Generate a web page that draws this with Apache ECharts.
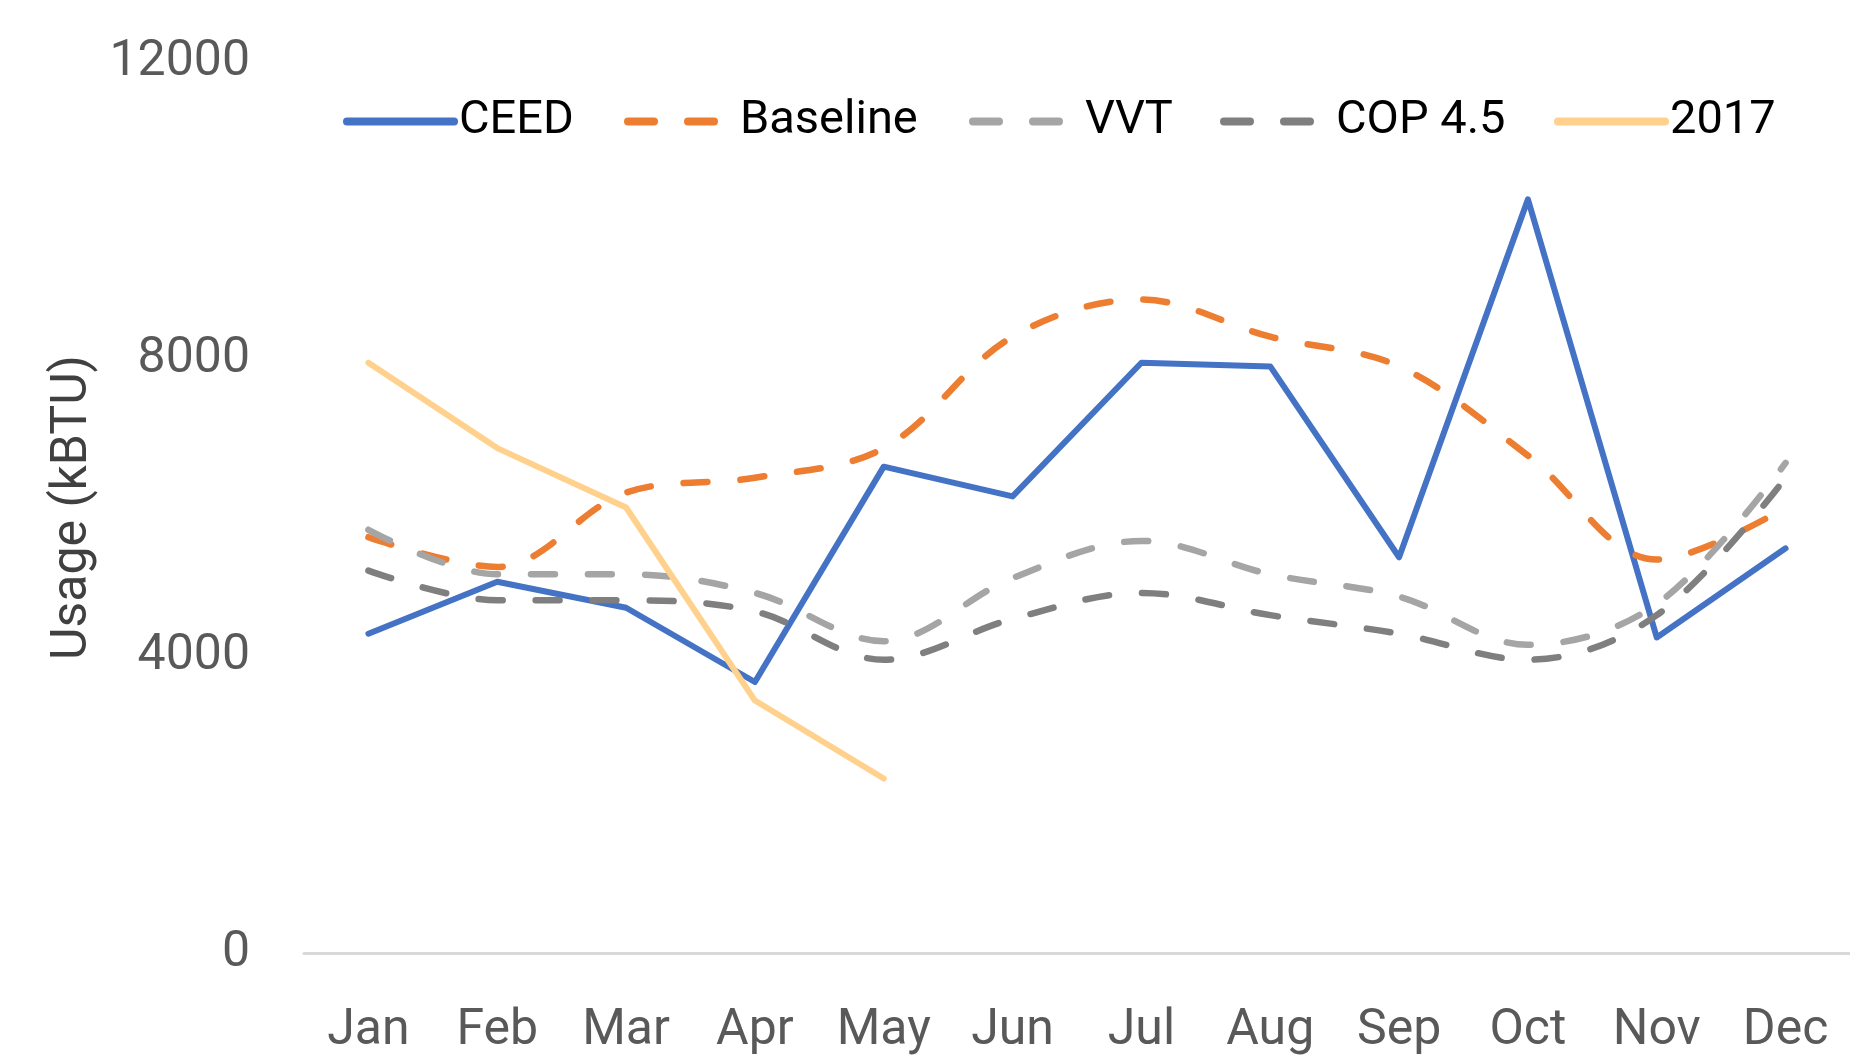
<!DOCTYPE html>
<html>
<head>
<meta charset="utf-8">
<script src="https://cdn.jsdelivr.net/npm/echarts@6/dist/echarts.min.js"></script>
<style>
html,body{margin:0;padding:0;background:#fff;}
#chart{width:1850px;height:1059px;}
</style>
</head>
<body>
<div id="chart"></div>
<script>
const months = ['Jan','Feb','Mar','Apr','May','Jun','Jul','Aug','Sep','Oct','Nov','Dec'];
const ceed     = [4300, 5000, 4650, 3650, 6550, 6150, 7950, 7900, 5330, 10150, 4250, 5450];
const baseline = [5600, 5200, 6200, 6400, 6800, 8300, 8800, 8300, 7900, 6700, 5300, 6000];
const vvt      = [5700, 5100, 5100, 4850, 4200, 5050, 5550, 5100, 4800, 4150, 4700, 6600];
const cop45    = [5150, 4750, 4750, 4600, 3950, 4500, 4850, 4550, 4300, 3950, 4550, 6400];
const y2017    = [7950, 6800, 6000, 3400, 2350, null, null, null, null, null, null, null];
const yTicks   = [0, 4000, 8000, 12000];

const names = ['CEED','Baseline','VVT','COP 4.5','2017'];
const colors = ['#4472C4','#ED7D31','#A5A5A5','#7F7F7F','#FFD18C'];
const dash = [24, 33];

const legendLeft = [343, 624, 969, 1220, 1554];
const legends = names.map((n, i) => ({
  data: [n],
  left: legendLeft[i],
  top: 98,
  padding: 0,
  itemWidth: 107,
  itemHeight: 14,
  itemStyle: {opacity: 0},
  textStyle: {fontFamily: 'Roboto', fontSize: 47, color: '#000', lineHeight: 47},
  lineStyle: {width: 8, cap: 'round', type: i === 0 || i === 4 ? 'solid' : [26, 34]}
}));

function mk(i, data, dashed, width, smooth) {
  return {
    name: names[i], type: 'line', data: data, symbol: 'none',
    smooth: smooth, connectNulls: false,
    lineStyle: {color: colors[i], width: width, type: dashed ? dash : 'solid', cap: 'round', join: 'round'},
    itemStyle: {color: colors[i]}
  };
}

const chart = echarts.init(document.getElementById('chart'));
chart.setOption({
  animation: false,
  backgroundColor: '#fff',
  legend: legends,
  grid: {left: 304, right: -19, top: 62, bottom: 106, containLabel: false},
  xAxis: {
    type: 'category', data: months, boundaryGap: true,
    axisLine: {show: true, lineStyle: {color: '#D9D9D9', width: 3}},
    axisTick: {show: false},
    axisLabel: {fontFamily: 'Roboto', fontSize: 50, color: '#595959', margin: 53, interval: 0}
  },
  yAxis: {
    type: 'value', min: yTicks[0], max: yTicks[yTicks.length-1], interval: 4000,
    splitLine: {show: false}, axisLine: {show: false}, axisTick: {show: false},
    axisLabel: {fontFamily: 'Roboto', fontSize: 50, color: '#595959', margin: 54,
      formatter: v => String(v)},
    name: 'Usage (kBTU)', nameLocation: 'middle', nameGap: 171, nameRotate: 90,
    nameTextStyle: {fontFamily: 'Roboto', fontSize: 50, color: '#404040'}
  },
  series: [
    mk(0, ceed, false, 6, false),
    mk(1, baseline, true, 6.5, 0.35),
    mk(2, vvt, true, 6.5, 0.35),
    mk(3, cop45, true, 6.5, 0.35),
    mk(4, y2017, false, 6, false)
  ]
});
</script>
</body>
</html>
